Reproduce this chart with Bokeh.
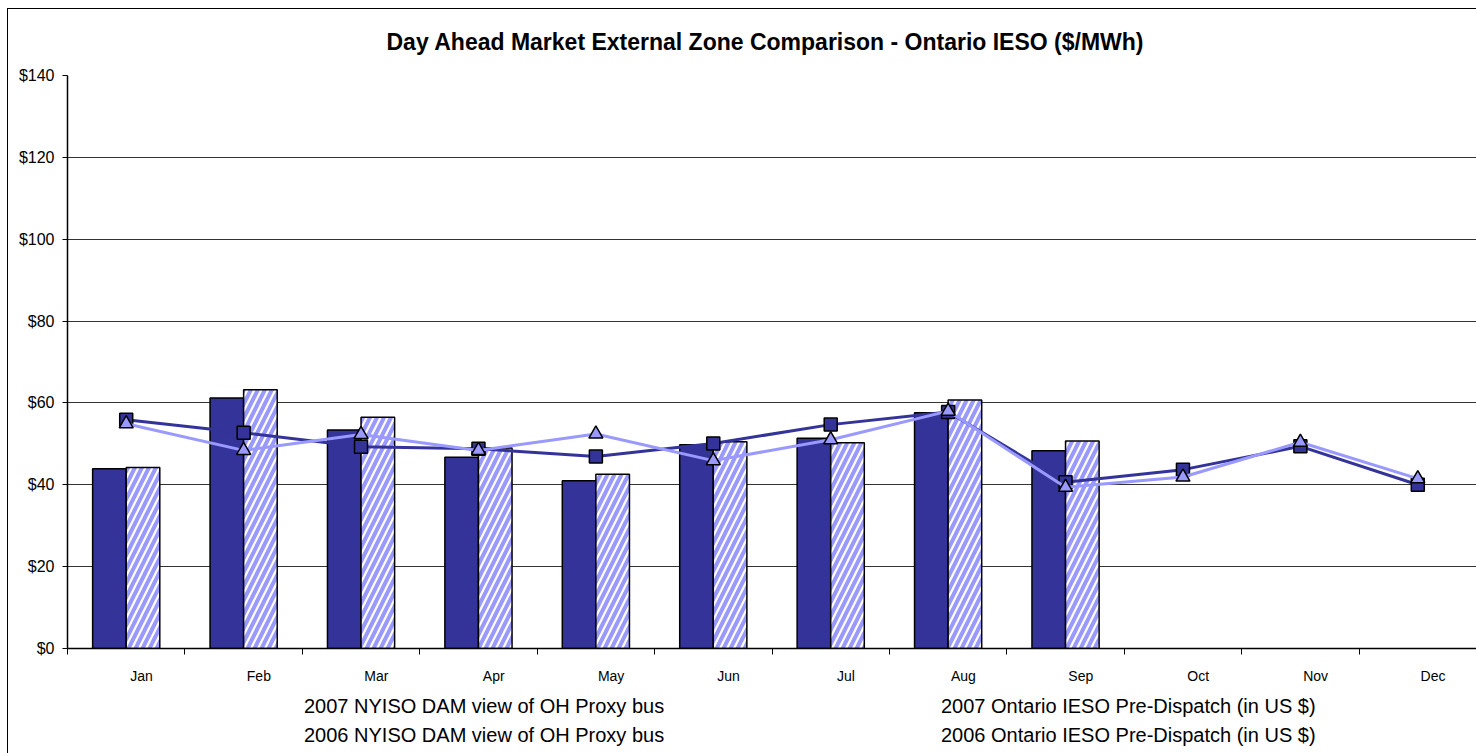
from bokeh.plotting import figure
from bokeh.layouts import column
from bokeh.models import (ColumnDataSource, Range1d, FixedTicker,
                          NumeralTickFormatter, Legend, LegendItem)
from bokeh.transform import dodge
from bokeh.embed import file_html
from bokeh.resources import INLINE

# ---------------- data ----------------
months = ["Jan", "Feb", "Mar", "Apr", "May", "Jun", "Jul", "Aug", "Sep", "Oct", "Nov", "Dec"]
bar_months = months[:9]
nyiso_2007 = [43.9, 61.2, 53.4, 46.7, 41.0, 49.8, 51.4, 57.6, 48.3]
ieso_2007 = [44.2, 63.2, 56.5, 49.0, 42.6, 50.5, 50.3, 60.7, 50.7]
nyiso_2006 = [55.9, 52.7, 49.3, 48.8, 46.9, 50.1, 54.7, 57.8, 40.6, 43.7, 49.4, 40.0]
ieso_2006 = [54.9, 48.4, 52.3, 48.4, 52.4, 45.9, 51.0, 58.0, 39.4, 41.9, 50.4, 41.5]
y_ticks = [0, 20, 40, 60, 80, 100, 120, 140]

title_text = "Day Ahead Market External Zone Comparison - Ontario IESO ($/MWh)"
lab_nyiso07 = "2007 NYISO DAM view of OH Proxy bus"
lab_ieso07 = "2007 Ontario IESO Pre-Dispatch (in US $)"
lab_nyiso06 = "2006 NYISO DAM view of OH Proxy bus"
lab_ieso06 = "2006 Ontario IESO Pre-Dispatch (in US $)"

DARK = "#333399"
LIGHT = "#9999FF"
FONT = "Liberation Sans"

# category centres on a numeric month axis (category i spans [i, i+1])
month_pos = [i + 0.5 for i in range(len(months))]
bar_src = ColumnDataSource(dict(x=month_pos[:len(bar_months)], nyiso=nyiso_2007, ieso=ieso_2007))
line_src = ColumnDataSource(dict(x=month_pos, nyiso=nyiso_2006, ieso=ieso_2006))

p = figure(x_range=Range1d(0, len(months)), y_range=Range1d(0, 140), width=1476, height=690,
           frame_width=1409, frame_height=573,
           output_backend="svg", toolbar_location=None,
           min_border_left=67, min_border_right=0, min_border_top=75, min_border_bottom=42,
           title=title_text)
p.stylesheets = [":host::after { content: ''; position: absolute; left: 6.5px; top: 7.5px; "
                 "right: 0; bottom: 0; border-left: 1.5px solid black; border-top: 1.5px solid black; "
                 "pointer-events: none; }"]
p.background_fill_color = "white"
p.border_fill_color = "white"
p.outline_line_color = None

p.title.align = "left"
p.title.offset = 319
p.title.text_font = FONT
p.title.text_font_size = "23px"
p.title.text_font_style = "bold"
p.title.text_color = "black"
p.title.standoff = 41

label_shift = 0.13
label_ticks = [m + label_shift for m in month_pos]
xax = p.xaxis[0]
xax.ticker = FixedTicker(ticks=label_ticks, minor_ticks=list(range(len(months) + 1)))
xax.major_label_overrides = {t: m for t, m in zip(label_ticks, months)}
xax.major_tick_out = 0
xax.major_tick_in = 0
xax.minor_tick_out = 6
xax.minor_tick_in = 0
xax.minor_tick_line_color = "black"
xax.axis_line_color = "black"
xax.axis_line_width = 1.5
xax.major_label_text_font = FONT
xax.major_label_text_font_size = "14px"
xax.major_label_text_color = "black"
xax.major_label_standoff = 13

yax = p.yaxis[0]
yax.ticker = FixedTicker(ticks=y_ticks)
yax.formatter = NumeralTickFormatter(format="$0")
yax.major_tick_out = 5
yax.major_tick_in = 0
yax.minor_tick_line_color = None
yax.axis_line_color = "black"
yax.axis_line_width = 1.5
yax.major_label_text_font = FONT
yax.major_label_text_font_size = "16px"
yax.major_label_text_color = "black"
yax.major_label_standoff = 8

p.xgrid.visible = False
p.ygrid.grid_line_color = "#333333"
p.ygrid.grid_line_width = 1
p.ygrid.ticker = FixedTicker(ticks=y_ticks)

bw = 0.286
bar1_style = dict(fill_color=DARK, line_color="black", line_width=1.5)
bar2_style = dict(fill_color="white", hatch_pattern="/", hatch_color=LIGHT,
                  hatch_scale=14, hatch_weight=4, line_color="black", line_width=1.5)
line1_style = dict(line_color=DARK, line_width=3)
line2_style = dict(line_color=LIGHT, line_width=3)
mark1_style = dict(marker="square", size=13, fill_color=DARK, line_color="black", line_width=1.5)
mark2_style = dict(marker="triangle", size=14, fill_color=LIGHT, line_color="black", line_width=1.5)

p.vbar(x=dodge("x", -bw / 2), top="nyiso", width=bw, bottom=0, source=bar_src, **bar1_style)
p.vbar(x=dodge("x", bw / 2), top="ieso", width=bw, bottom=0, source=bar_src, **bar2_style)
p.line(x="x", y="nyiso", source=line_src, **line1_style)
p.scatter(x="x", y="nyiso", source=line_src, **mark1_style)
p.line(x="x", y="ieso", source=line_src, **line2_style)
p.scatter(x="x", y="ieso", source=line_src, **mark2_style)

# ---------------- legend strip below the chart ----------------
LEG_H = 63
q = figure(width=1476, height=LEG_H, frame_width=1476, frame_height=LEG_H,
           x_range=Range1d(0, 1476), y_range=Range1d(0, LEG_H),
           output_backend="svg", toolbar_location=None,
           x_axis_location=None, y_axis_location=None,
           min_border_left=0, min_border_right=0, min_border_top=0, min_border_bottom=0)
q.stylesheets = [":host::after { content: ''; position: absolute; left: 6.5px; top: 0; "
                 "right: 0; bottom: 0; border-left: 1.5px solid black; pointer-events: none; }"]
q.xgrid.visible = False
q.ygrid.visible = False
q.outline_line_color = None
q.background_fill_color = "white"
q.border_fill_color = "white"

empty = ColumnDataSource(dict(x=[], y=[]))
k_b1 = q.vbar(x="x", top="y", width=1, bottom=0, source=empty, **bar1_style)
k_b2 = q.vbar(x="x", top="y", width=1, bottom=0, source=empty, **bar2_style)
k_l1 = q.line(x="x", y="y", source=empty, **line1_style)
k_s1 = q.scatter(x="x", y="y", source=empty, **mark1_style)
k_l2 = q.line(x="x", y="y", source=empty, **line2_style)
k_s2 = q.scatter(x="x", y="y", source=empty, **mark2_style)


def make_legend(items, loc):
    lg = Legend(items=items, location=loc, orientation="horizontal")
    lg.label_text_font = FONT
    lg.label_text_font_size = "20px"
    lg.label_text_color = "black"
    lg.glyph_width = 45
    lg.glyph_height = 14
    lg.label_standoff = 4
    lg.label_width = 532
    lg.spacing = 56
    lg.padding = 0
    lg.margin = 0
    lg.border_line_color = None
    lg.background_fill_alpha = 0
    return lg


leg1 = make_legend([LegendItem(label=lab_nyiso07, renderers=[k_b1]),
                    LegendItem(label=lab_ieso07, renderers=[k_b2])], (255, 35))
leg2 = make_legend([LegendItem(label=lab_nyiso06, renderers=[k_l1, k_s1]),
                    LegendItem(label=lab_ieso06, renderers=[k_l2, k_s2])], (255, 6))
q.add_layout(leg1)
q.add_layout(leg2)

layout = column(p, q, spacing=0)
open("out.html", "w").write(file_html(layout, INLINE))
